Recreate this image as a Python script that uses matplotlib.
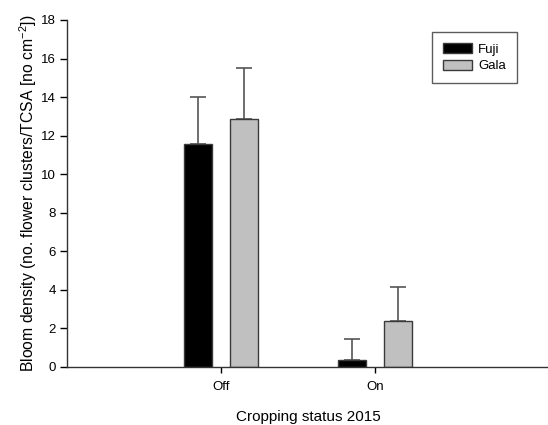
import numpy as np
import matplotlib
matplotlib.use("Agg")
import matplotlib.pyplot as plt

plt.rcParams['font.family'] = ['Liberation Sans', 'DejaVu Sans']
plt.rcParams['mathtext.fontset'] = 'custom'
plt.rcParams['mathtext.rm'] = 'Liberation Sans'
plt.rcParams['mathtext.it'] = 'Liberation Sans:italic'

status = ["Off", "On"]
fuji_mean = [11.57, 0.34]
fuji_err = [2.43, 1.13]
gala_mean = [12.88, 2.36]
gala_err = [2.62, 1.80]

x = np.array([1, 2])
w = 0.18
edge = '#3a3a3a'

fig = plt.figure(figsize=(5.48, 4.25), dpi=100)
ax = fig.add_axes([0.1223, 0.1365, 0.88, 0.8165])

ax.bar(x - 0.15, fuji_mean, w, color='black', edgecolor=edge, linewidth=1,
       label='Fuji', zorder=2)
ax.bar(x + 0.15, gala_mean, w, color='#c0c0c0', edgecolor=edge, linewidth=1,
       label='Gala', zorder=2)
# upper error bars only
ax.errorbar(x - 0.15, fuji_mean, yerr=[np.zeros(2), fuji_err], fmt='none',
            ecolor='#555555', elinewidth=1.2, capsize=6, capthick=1.2, zorder=1)
ax.errorbar(x + 0.15, gala_mean, yerr=[np.zeros(2), gala_err], fmt='none',
            ecolor='#555555', elinewidth=1.2, capsize=6, capthick=1.2, zorder=1)

ax.set_xlim(0, 3.13)
ax.set_ylim(0, 18)
ax.set_yticks(range(0, 19, 2))
ax.set_xticks(x)
ax.set_xticklabels(status)
ax.tick_params(axis='y', direction='out', length=5, width=1, labelsize=9.5, pad=3)
ax.tick_params(axis='x', direction='out', length=4, width=1, labelsize=9.5, pad=6)

for s in ['top', 'right']:
    ax.spines[s].set_visible(False)
for s in ['left', 'bottom']:
    ax.spines[s].set_linewidth(1)
    ax.spines[s].set_color('#333333')

ax.set_xlabel("Cropping status 2015", fontsize=11, labelpad=12)
ax.set_ylabel("Bloom density (no. flower clusters/TCSA [no cm$^{-2}$])", fontsize=11.3, labelpad=1.5)

leg = ax.legend(loc='upper right', bbox_to_anchor=(0.946, 0.983), frameon=True,
                fancybox=False, edgecolor='#333333', fontsize=9.5,
                handlelength=2.2, handleheight=0.8, borderpad=0.8,
                labelspacing=0.3, handletextpad=0.5)
leg.get_frame().set_linewidth(1)

fig.savefig("out.png", dpi=100)
